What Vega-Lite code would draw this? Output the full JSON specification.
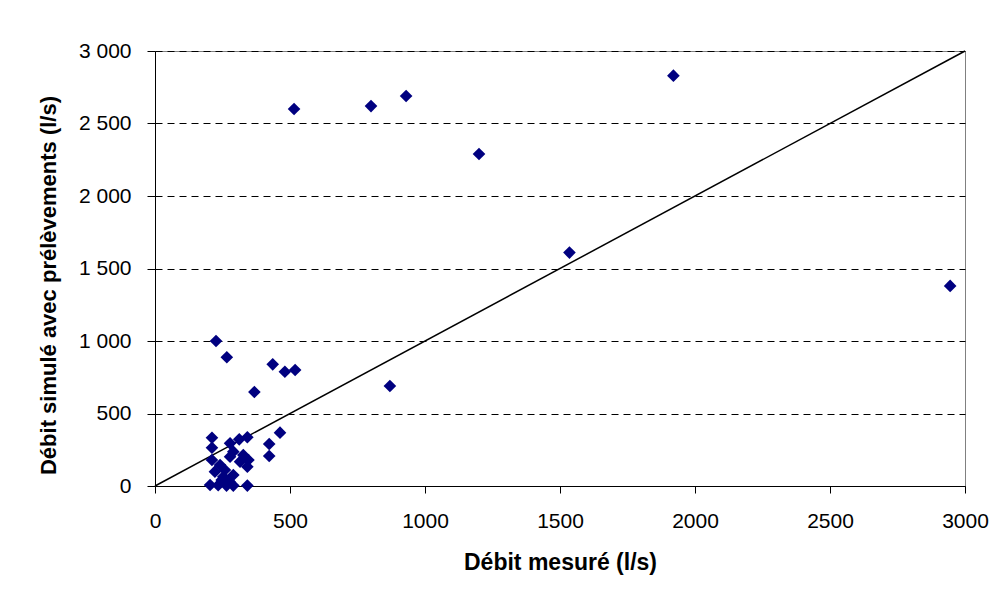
{
  "$schema": "https://vega.github.io/schema/vega-lite/v6.json",
  "width": 810,
  "height": 435,
  "autosize": {"type": "none"},
  "padding": {"left": 155, "top": 51, "right": 30, "bottom": 113},
  "background": "white",
  "config": {
    "view": {"stroke": "#808080", "strokeWidth": 1},
    "font": "Liberation Sans"
  },
  "datasets": {
    "pts": [
      {"mesure": 515, "simule": 2600},
      {"mesure": 800, "simule": 2620},
      {"mesure": 930, "simule": 2690},
      {"mesure": 1200, "simule": 2290},
      {"mesure": 1920, "simule": 2830},
      {"mesure": 1535, "simule": 1610},
      {"mesure": 2945, "simule": 1380},
      {"mesure": 870, "simule": 690},
      {"mesure": 226, "simule": 1000},
      {"mesure": 266, "simule": 888},
      {"mesure": 436, "simule": 839},
      {"mesure": 481, "simule": 788},
      {"mesure": 519, "simule": 800},
      {"mesure": 368, "simule": 648},
      {"mesure": 211, "simule": 333},
      {"mesure": 211, "simule": 264},
      {"mesure": 211, "simule": 179},
      {"mesure": 463, "simule": 368},
      {"mesure": 423, "simule": 290},
      {"mesure": 423, "simule": 207},
      {"mesure": 342, "simule": 336},
      {"mesure": 312, "simule": 322},
      {"mesure": 278, "simule": 294},
      {"mesure": 290, "simule": 237},
      {"mesure": 327, "simule": 214},
      {"mesure": 346, "simule": 179},
      {"mesure": 342, "simule": 133},
      {"mesure": 315, "simule": 168},
      {"mesure": 278, "simule": 202},
      {"mesure": 241, "simule": 145},
      {"mesure": 222, "simule": 99},
      {"mesure": 259, "simule": 110},
      {"mesure": 290, "simule": 76},
      {"mesure": 253, "simule": 64},
      {"mesure": 204, "simule": 7},
      {"mesure": 234, "simule": 5},
      {"mesure": 265, "simule": 3},
      {"mesure": 290, "simule": 3},
      {"mesure": 342, "simule": 3},
      {"mesure": 247, "simule": 41},
      {"mesure": 276, "simule": 30}
    ],
    "diag": [
      {"mesure": 0, "simule": 0},
      {"mesure": 3000, "simule": 3000}
    ]
  },
  "layer": [
    {
      "data": {"name": "diag"},
      "mark": {"type": "line", "color": "black", "strokeWidth": 1.5},
      "encoding": {
        "x": {"field": "mesure", "type": "quantitative"},
        "y": {"field": "simule", "type": "quantitative"}
      }
    },
    {
      "data": {"name": "pts"},
      "mark": {"type": "point", "shape": "diamond", "filled": true, "color": "#000080", "size": 160, "opacity": 1},
      "encoding": {
        "x": {
          "field": "mesure", "type": "quantitative",
          "scale": {"domain": [0, 3000], "nice": false, "zero": true},
          "axis": {
            "title": "Débit mesuré (l/s)",
            "values": [0, 500, 1000, 1500, 2000, 2500, 3000],
            "format": "d",
            "grid": false,
            "labelFlush": false,
            "labelOverlap": false,
            "domainColor": "black",
            "tickColor": "black",
            "tickSize": 7,
            "labelFontSize": 21,
            "labelColor": "black",
            "labelPadding": 17,
            "titleFontSize": 23,
            "titleFontWeight": "bold",
            "titleColor": "black",
            "titlePadding": 20
          }
        },
        "y": {
          "field": "simule", "type": "quantitative",
          "scale": {"domain": [0, 3000], "nice": false},
          "axis": {
            "title": "Débit simulé avec prélèvements (l/s)",
            "values": [0, 500, 1000, 1500, 2000, 2500, 3000],
            "labelExpr": "replace(format(datum.value, ','), ',', ' ')",
            "labelFlush": false,
            "labelOverlap": false,
            "grid": true,
            "gridColor": "black",
            "gridDash": [7, 5],
            "gridWidth": 1,
            "domainColor": "black",
            "tickColor": "black",
            "tickSize": 8,
            "labelFontSize": 21,
            "labelColor": "black",
            "labelPadding": 16,
            "titleFontSize": 22,
            "titleFontWeight": "bold",
            "titleColor": "black",
            "titlePadding": 18,
            "titleY": 234
          }
        }
      }
    }
  ]
}
